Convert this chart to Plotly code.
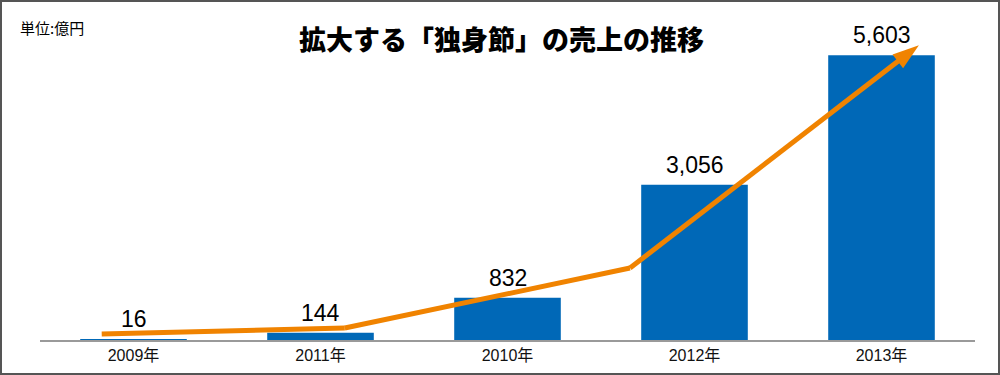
import plotly.graph_objects as go

# ---- data ----
categories = ["2009年", "2011年", "2010年", "2012年", "2013年"]
sales = [16, 144, 832, 3056, 5603]
sales_labels = ["16", "144", "832", "3,056", "5,603"]

# trend arrow (category-index positions, values in 億円)
trend_x = [-0.17, 1.13, 2.655, 4.2]
trend_y = [118, 236, 1415, 5800]

title_text = "拡大する「独身節」の売上の推移"
unit_text = "単位:億円"

BAR_COLOR = "#0068B7"
LINE_COLOR = "#F08300"
LATIN = "Liberation Sans, Arial, Noto Sans CJK JP, sans-serif"
CJK = "Noto Sans CJK JP, sans-serif"

W, H = 1000, 375
ML, MR, MT, MB = 40, 25, 35, 35

x_idx = list(range(len(categories)))

fig = go.Figure()
fig.add_trace(go.Bar(
    x=x_idx, y=sales, width=0.57,
    marker=dict(color=BAR_COLOR, line=dict(width=0)),
    hoverinfo="skip", showlegend=False,
))
fig.add_trace(go.Scatter(
    x=trend_x, y=trend_y, mode="lines+markers",
    line=dict(color=LINE_COLOR, width=5),
    marker=dict(symbol=["circle", "circle", "circle", "arrow"],
                size=[0, 0, 0, 28], color=LINE_COLOR, opacity=1,
                angleref="previous", line=dict(width=0)),
    cliponaxis=False, hoverinfo="skip", showlegend=False,
))

annotations = []
for i, (v, lab) in enumerate(zip(sales, sales_labels)):
    annotations.append(dict(
        x=i, y=v, xref="x", yref="y", text=lab, showarrow=False,
        yanchor="bottom", yshift=5,
        font=dict(family=LATIN, size=23, color="#000000"),
    ))

pw = W - ML - MR
ph = H - MT - MB
annotations.append(dict(
    x=0.5 + (501 - (ML + pw / 2)) / pw, y=1 + (MT - 38) / ph,
    xref="paper", yref="paper", text=title_text,
    showarrow=False, xanchor="center", yanchor="middle",
    font=dict(family=CJK, size=27, color="#000000", weight=900),
))
annotations.append(dict(
    x=(18 - ML) / pw, y=1 + (MT - 27) / ph,
    xref="paper", yref="paper", text=unit_text,
    showarrow=False, xanchor="left", yanchor="middle",
    font=dict(family=CJK, size=15, color="#000000"),
))

# outer frame
shapes = [dict(
    type="rect", xref="paper", yref="paper",
    x0=(1 - ML) / pw, x1=1 + (MR - 1) / pw,
    y0=-(MB - 1) / ph, y1=1 + (MT - 1) / ph,
    line=dict(color="#555555", width=2), fillcolor="rgba(0,0,0,0)",
)]

fig.update_layout(
    width=W, height=H,
    margin=dict(l=ML, r=MR, t=MT, b=MB, pad=0),
    paper_bgcolor="white", plot_bgcolor="white",
    annotations=annotations, shapes=shapes,
    xaxis=dict(
        range=[-0.5, 4.5], tickvals=x_idx, ticktext=categories,
        showgrid=False, zeroline=False, showline=True,
        linecolor="#9a9a9a", linewidth=2, ticks="",
        tickfont=dict(family=LATIN, size=16, color="#111111"),
        fixedrange=True,
    ),
    yaxis=dict(
        range=[0, 6000], visible=False, showgrid=False, zeroline=False,
        fixedrange=True,
    ),
)

fig.write_html(
    "out.html",
    config={"displayModeBar": False},
    post_script="document.body.style.margin='0';document.body.style.overflow='hidden';",
)
